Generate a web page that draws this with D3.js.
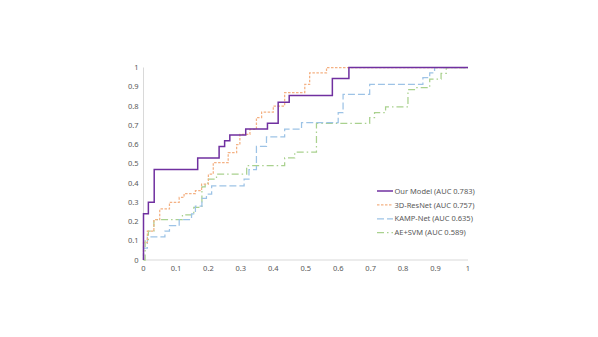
<!DOCTYPE html>
<html>
<head>
<meta charset="utf-8">
<script src="https://cdn.jsdelivr.net/npm/d3@7"></script>
<style>
  body { margin: 0; background: #fff; }
  text { font-family: "Noto Sans", "Liberation Sans", sans-serif; fill: #595959; }
</style>
</head>
<body>
<div id="chart"></div>
<script>
// ROC points (false positive rate, true positive rate)
var ourFpr  = [0, 0, 0.015, 0.033, 0.167, 0.233, 0.25, 0.266, 0.315, 0.382, 0.415, 0.449, 0.582, 0.633, 1];
var ourTpr  = [0, 0.24, 0.30, 0.47, 0.53, 0.59, 0.62, 0.65, 0.68, 0.71, 0.82, 0.855, 0.943, 1, 1];

var resFpr  = [0, 0, 0.012, 0.032, 0.05, 0.08, 0.11, 0.125, 0.16, 0.179, 0.2, 0.215, 0.261, 0.287, 0.297, 0.328, 0.348, 0.364, 0.40, 0.435, 0.497, 0.512, 0.564, 1];
var resTpr  = [0, 0.09, 0.15, 0.21, 0.265, 0.30, 0.325, 0.345, 0.36, 0.394, 0.446, 0.506, 0.558, 0.60, 0.653, 0.679, 0.74, 0.768, 0.80, 0.87, 0.912, 0.972, 1, 1];

var kampFpr = [0, 0, 0.012, 0.066, 0.08, 0.11, 0.148, 0.16, 0.18, 0.194, 0.21, 0.31, 0.325, 0.348, 0.379, 0.435, 0.487, 0.60, 0.615, 0.697, 0.861, 0.882, 0.897, 1];
var kampTpr = [0, 0.062, 0.12, 0.15, 0.178, 0.21, 0.24, 0.28, 0.32, 0.342, 0.385, 0.42, 0.47, 0.59, 0.64, 0.68, 0.713, 0.765, 0.86, 0.912, 0.947, 0.972, 1, 1];

var svmFpr  = [0, 0.005, 0.015, 0.032, 0.12, 0.155, 0.18, 0.19, 0.2, 0.225, 0.318, 0.435, 0.466, 0.533, 0.697, 0.712, 0.746, 0.815, 0.835, 0.882, 0.917, 0.933, 1];
var svmTpr  = [0, 0.10, 0.15, 0.21, 0.235, 0.273, 0.38, 0.40, 0.42, 0.446, 0.49, 0.53, 0.56, 0.71, 0.74, 0.765, 0.795, 0.885, 0.895, 0.94, 0.97, 1, 1];

var seriesNames = ["Our Model (AUC 0.783)", "3D-ResNet (AUC 0.757)", "KAMP-Net (AUC 0.635)", "AE+SVM (AUC 0.589)"];
var xTicks = [0, 0.1, 0.2, 0.3, 0.4, 0.5, 0.6, 0.7, 0.8, 0.9, 1];
var yTicks = [0, 0.1, 0.2, 0.3, 0.4, 0.5, 0.6, 0.7, 0.8, 0.9, 1];

// line styles for each series
var styles = [
  {color: "#7030A0", width: 1.5, dash: null},
  {color: "#F4B183", width: 1.25, dash: "2.5,1.5"},
  {color: "#9DC3E6", width: 1.25, dash: "7,3"},
  {color: "#A9D18E", width: 1.25, dash: "7,3,1.5,3"}
];

var W = 598, H = 337;
var x = d3.scaleLinear().domain([0, 1]).range([143.5, 468]);
var y = d3.scaleLinear().domain([0, 1]).range([260, 67.5]);

var svg = d3.select("#chart").append("svg")
  .attr("width", W)
  .attr("height", H);

svg.append("rect").attr("width", W).attr("height", H).attr("fill", "#fff");

// axes: plain grey lines, labels only
svg.append("line")
  .attr("x1", x(0)).attr("x2", x(1))
  .attr("y1", y(0)).attr("y2", y(0))
  .attr("stroke", "#d9d9d9").attr("stroke-width", 1);
svg.append("line")
  .attr("x1", x(0)).attr("x2", x(0))
  .attr("y1", y(0)).attr("y2", y(1))
  .attr("stroke", "#d9d9d9").attr("stroke-width", 1);

svg.selectAll(".xlab")
  .data(xTicks)
  .enter().append("text")
  .attr("class", "xlab")
  .attr("x", function(d) { return x(d); })
  .attr("y", y(0) + 11)
  .attr("text-anchor", "middle")
  .attr("font-size", 7.5)
  .text(function(d) { return d; });

svg.selectAll(".ylab")
  .data(yTicks)
  .enter().append("text")
  .attr("class", "ylab")
  .attr("x", x(0) - 5)
  .attr("y", function(d) { return y(d) + 2.6; })
  .attr("text-anchor", "end")
  .attr("font-size", 7.5)
  .text(function(d) { return d; });

// build the series from the arrays
var series = [
  d3.zip(ourFpr, ourTpr),
  d3.zip(resFpr, resTpr),
  d3.zip(kampFpr, kampTpr),
  d3.zip(svmFpr, svmTpr)
];

var line = d3.line()
  .x(function(d) { return x(d[0]); })
  .y(function(d) { return y(d[1]); })
  .curve(d3.curveStepAfter);

// draw bottom series first so our model sits on top
for (var i = series.length - 1; i >= 0; i--) {
  svg.append("path")
    .datum(series[i])
    .attr("fill", "none")
    .attr("stroke", styles[i].color)
    .attr("stroke-width", styles[i].width)
    .attr("stroke-dasharray", styles[i].dash)
    .attr("d", line);
}

// legend
var legend = svg.selectAll(".legend")
  .data(seriesNames)
  .enter().append("g")
  .attr("class", "legend")
  .attr("transform", function(d, i) { return "translate(377," + (191 + i * 13.9) + ")"; });

legend.append("line")
  .attr("x1", 0).attr("x2", 16)
  .attr("stroke", function(d, i) { return styles[i].color; })
  .attr("stroke-width", function(d, i) { return styles[i].width; })
  .attr("stroke-dasharray", function(d, i) { return styles[i].dash; });

legend.append("text")
  .attr("x", 17.5)
  .attr("y", 2.6)
  .attr("font-size", 7.5)
  .text(function(d) { return d; });
</script>
</body>
</html>
